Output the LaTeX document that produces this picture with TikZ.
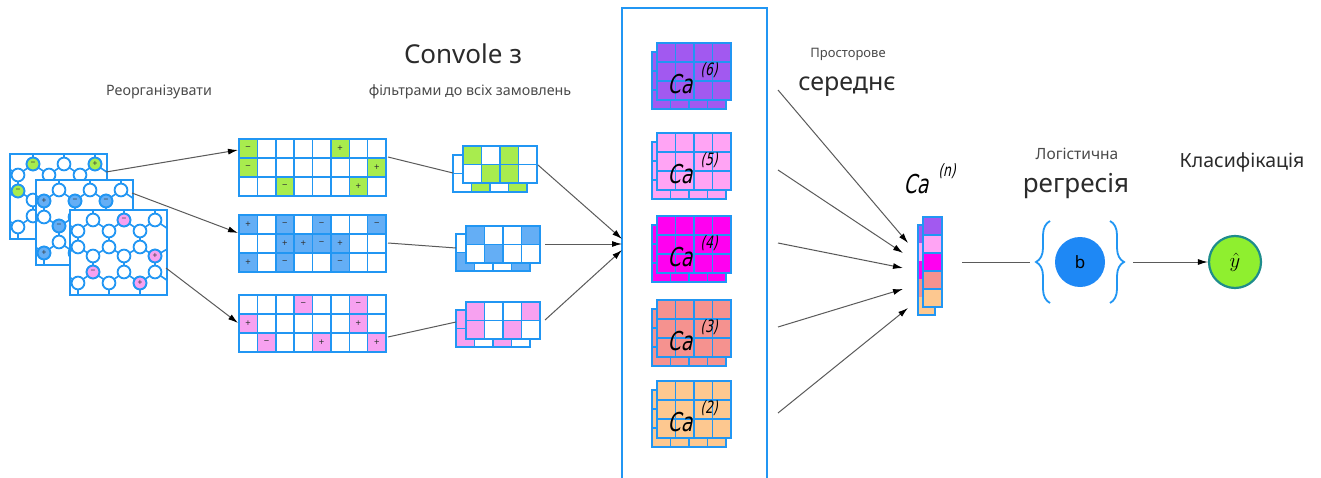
\documentclass[tikz,border=0pt]{standalone}
\usepackage{fontspec}
\setmainfont{Noto Sans}
\newfontfamily\gost{DejaVu Sans}[FakeSlant=0.22,FakeStretch=0.72]
\usetikzlibrary{arrows.meta,decorations.pathreplacing,calc}
\definecolor{bord}{HTML}{2196F3}
\definecolor{lgray}{HTML}{5A5A5A}
\definecolor{tgray}{HTML}{4A4A4A}
\definecolor{tdark}{HTML}{2B2B2B}
\definecolor{cg}{HTML}{A8EC4E}
\definecolor{cb}{HTML}{64AEF5}
\definecolor{cp}{HTML}{F7A1F0}
\definecolor{caA}{HTML}{A259F0}
\definecolor{caB}{HTML}{FFA4F4}
\definecolor{caC}{HTML}{FF00F0}
\definecolor{caD}{HTML}{F5928F}
\definecolor{caE}{HTML}{FDC890}
\definecolor{bblue}{HTML}{1E88F5}
\definecolor{ygreen}{HTML}{8FEF2F}
\definecolor{yteal}{HTML}{1E8C8C}
\tikzset{
 gline/.style={draw=bord, line width=1.5pt},
 bond/.style={draw=bord, line width=1.6pt},
 circ/.style={draw=bord, line width=1.8pt, fill=white},
 sgn/.style={font=\fontsize{9.5}{9.5}\selectfont, text=black!80, inner sep=0pt},
 csgn/.style={font=\fontsize{8.5}{8.5}\selectfont, text=black!80, inner sep=0pt},
 conn/.style={draw=lgray, line width=1pt},
 arr/.style={-{Latex[length=10pt,width=6pt,color=black]}},
 calab/.style={font=\gost\fontsize{26}{26}\selectfont, text=black, inner sep=0pt},
 casup/.style={font=\gost\fontsize{17}{17}\selectfont, text=black, inner sep=0pt},
 lbl/.style={text=tgray, inner sep=0pt, anchor=base},
 brc/.style={draw=bord, line width=1.8pt, decorate, decoration={brace, amplitude=14pt}},
}
% rectangular cell grid: x0 y0 ncols nrows cw ch
\newcommand\cellrects[6]{%
  \foreach \ii in {1,...,#3}{\foreach \jj in {1,...,#4}{%
    \draw[gline] ({#1+(\ii-1)*#5},{#2+(\jj-1)*#6}) rectangle ++(#5,#6);}}%
  \draw[gline,line width=2pt] ({#1},{#2}) rectangle ++({#3*#5},{#4*#6});}
% filled cells without sign: x0 y0 cw ch colour list c/r
\newcommand\plaincells[6]{%
  \foreach \c/\r in {#6}{\fill[#5] ({#1+\c*#3},{#2+\r*#4}) rectangle ++(#3,#4);}}
% filled cells with sign: x0 y0 cw ch colour list c/r/s prefix
\newcommand\signcells[7]{%
  \foreach \c/\r/\s in {#6}{\fill[#5] ({#1+\c*#3},{#2+\r*#4}) rectangle ++(#3,#4);
    \node[sgn] (#7-\c-\r) at ({#1+(\c+0.5)*#3},{#2+(\r+0.5)*#4}) {\s};}}
% honeycomb of circles: x0 y0 colour list px/py/s prefix
\newcommand\molgrid[5]{%
\begin{scope}[shift={(#1,#2)}]
  \fill[white] (0,0) rectangle (97,85);
  \begin{scope}
   \clip (0,0) rectangle (97,85);
   \foreach \k in {-1,0,1,2,3}{
     \draw[bond] ({23+31*\k},0) -- ({23+31*\k},10) -- ({8+31*\k},21) -- ({8+31*\k},37) -- ({23+31*\k},46) -- ({23+31*\k},62) -- ({8+31*\k},73) -- ({8+31*\k},85);
     \draw[bond] ({23+31*\k},10) -- ({39+31*\k},21);
     \draw[bond] ({39+31*\k},37) -- ({23+31*\k},46);
     \draw[bond] ({23+31*\k},62) -- ({39+31*\k},73);
   }
  \end{scope}
  \foreach \k in {0,1,2}{
   \foreach \yy in {10,46,62}{\draw[circ] ({23+31*\k},\yy) circle (6.4);}
   \foreach \yy in {21,37,73}{\draw[circ] ({8+31*\k},\yy) circle (6.4);}
  }
  \foreach \px/\py/\s in {#4}{\draw[circ, fill=#3] (\px,\py) circle (6.4);
    \node[csgn] (#5-\px-\py) at (\px,\py) {\s};}
  \draw[bord, line width=2pt] (0,0) rectangle (97,85);
\end{scope}}
% stacked 4x3 map with label: x0 y0 colour sup name
\newcommand\castack[5]{%
  \fill[#3] ({#1-5},{#2+9}) rectangle ++(74,57);
  \cellrects{#1-5}{#2+9}{4}{3}{18.5}{19}
  \fill[#3] ({#1},{#2}) rectangle ++(74,57);
  \cellrects{#1}{#2}{4}{3}{18.5}{19}
  \node[calab] (#5c) at ({#1+23},{#2+41}) {Ca};
  \node[casup] (#5s) at ({#1+52},{#2+27}) {(#4)};
}
\begin{document}
\begin{tikzpicture}[x=1pt,y=-1pt]
\useasboundingbox (0,0) rectangle (1321,478);
\fill[white] (0,0) rectangle (1321,478);

% ---- titles
\node[lbl, font=\fontsize{14.3}{14.3}\selectfont] (reorg) at (159,96) {Реорганізувати};
\node[lbl, font=\fontsize{26}{26}\selectfont, text=tdark] (conv) at (463,64) {Convole з};
\node[lbl, font=\fontsize{14.3}{14.3}\selectfont] (filt) at (470,96) {фільтрами до всіх замовлень};
\node[lbl, font=\fontsize{13}{13}\selectfont] (prost) at (848,58) {Просторове};
\node[lbl, font=\fontsize{25}{25}\selectfont, text=tdark] (sered) at (847,91) {середнє};
\node[lbl, font=\fontsize{15.5}{15.5}\selectfont] (logi) at (1077,160) {Логістична};
\node[lbl, font=\fontsize{26}{26}\selectfont, text=tdark] (regr) at (1076,193) {регресія};
\node[lbl, font=\fontsize{19.5}{19.5}\selectfont, text=tdark] (klas) at (1242,168) {Класифікація};

% ---- honeycomb inputs
\molgrid{10}{154}{cg}{23/10/−,85/10/+,8/37/−}{h1}
\molgrid{36}{180}{cb}{8/21/+,39/21/−,70/21/−,23/46/−,8/73/+}{h2}
\molgrid{70}{210}{cp}{54/10/−,85/46/+,23/62/−,70/73/+}{h3}

% ---- 8x3 grids
\fill[white] (239,139) rectangle ++(147,57);
\signcells{239}{139}{18.375}{19}{cg}{0/0/−,5/0/+,0/1/−,7/1/+,2/2/−,6/2/+}{ga}
\cellrects{239}{139}{8}{3}{18.375}{19}
\signcells{239}{215}{18.375}{19}{cb}{0/0/+,2/0/−,4/0/−,7/0/−,2/1/+,3/1/+,4/1/−,5/1/+,0/2/+,2/2/−,5/2/−}{gb}
\cellrects{239}{215}{8}{3}{18.375}{19}
\signcells{239}{295}{18.375}{19}{cp}{3/0/−,6/0/−,0/1/+,6/1/+,1/2/−,4/2/+,7/2/+}{gc}
\cellrects{239}{295}{8}{3}{18.375}{19}

% ---- small stacked 4x2 grids
\plaincells{453}{155}{18.5}{18.5}{cg}{1/1,3/1}
\cellrects{453}{155}{4}{2}{18.5}{18.5}
\fill[white] (463,146) rectangle ++(74,37);
\plaincells{463}{146}{18.5}{18.5}{cg}{0/0,2/0,1/1,2/1}
\cellrects{463}{146}{4}{2}{18.5}{18.5}

\plaincells{456}{234}{18.5}{18.5}{cb}{0/1,3/1}
\cellrects{456}{234}{4}{2}{18.5}{18.5}
\fill[white] (466,226) rectangle ++(74,37);
\plaincells{466}{226}{18.5}{18.5}{cb}{0/0,3/0,1/1}
\cellrects{466}{226}{4}{2}{18.5}{18.5}

\plaincells{456}{310}{18.5}{18.5}{cp}{0/0,0/1,2/1}
\cellrects{456}{310}{4}{2}{18.5}{18.5}
\fill[white] (466,302) rectangle ++(74,37);
\plaincells{466}{302}{18.5}{18.5}{cp}{0/0,3/0,0/1,2/1}
\cellrects{466}{302}{4}{2}{18.5}{18.5}

% ---- middle column
\draw[bord, line width=2pt] (622,8) rectangle (767,490);
\castack{657}{43}{caA}{6}{k6}
\castack{657}{133}{caB}{5}{k5}
\castack{657}{216}{caC}{4}{k4}
\castack{657}{300}{caD}{3}{k3}
\castack{657}{381}{caE}{2}{k2}

% ---- pooled vector
\foreach \k/\col in {0/caA,1/caB,2/caC,3/caD,4/caE}{
  \fill[\col] (918,{225+18*\k}) rectangle ++(17,18);}
\draw[gline] (918,225) rectangle ++(17,90);
\foreach \k/\col in {0/caA,1/caB,2/caC,3/caD,4/caE}{
  \fill[\col] (923,{217+18*\k}) rectangle ++(19,18);
  \draw[gline] (923,{217+18*\k}) rectangle ++(19,18);}
\node[calab] (cnc) at (916,184) {Ca};
\node[casup] (cns) at (947,171) {(n)};

% ---- regression and output
\node[circle, fill=bblue, minimum size=50pt, inner sep=0pt, font=\fontsize{17}{17}\selectfont] (b) at (1080,262) {b};
\draw[brc] (1050,303) -- (1050,221);
\draw[brc] (1110,221) -- (1110,303);
\node[circle, fill=ygreen, draw=yteal, line width=2.2pt, minimum size=52pt, inner sep=0pt, font=\fontsize{21}{21}\selectfont] (yhat) at (1235,262) {$\hat{y}$};

% ---- connector end points
\coordinate (h1o) at (106,172);  \coordinate (ga-in) at (238,150);
\coordinate (h2o) at (132,193);  \coordinate (gb-in) at (238,233);
\coordinate (h3o) at (166,268);  \coordinate (gc-in) at (238,323);
\coordinate (ga-out) at (388,157); \coordinate (sa-in) at (453,173);
\coordinate (gb-out) at (388,243); \coordinate (sb-in) at (456,248);
\coordinate (gc-out) at (388,337); \coordinate (sc-in) at (456,322);
\coordinate (sa-out) at (538,165); \coordinate (sb-out) at (545,244); \coordinate (sc-out) at (545,320);
\coordinate (colA) at (622,239); \coordinate (colB) at (622,244); \coordinate (colC) at (622,250);
\coordinate (p6) at (778,90);  \coordinate (v6) at (908,243);
\coordinate (p5) at (778,170); \coordinate (v5) at (903,253);
\coordinate (p4) at (778,243); \coordinate (v4) at (903,268);
\coordinate (p3) at (778,327); \coordinate (v3) at (903,289);
\coordinate (p2) at (778,413); \coordinate (v2) at (908,308);
\coordinate (vout) at (962,262); \coordinate (brl) at (1030,262);
\coordinate (brr) at (1133,262);

\draw[conn, arr] (h1o) -- (ga-in);
\draw[conn, arr] (h2o) -- (gb-in);
\draw[conn, arr] (h3o) -- (gc-in);
\draw[conn] (ga-out) -- (sa-in);
\draw[conn] (gb-out) -- (sb-in);
\draw[conn] (gc-out) -- (sc-in);
\draw[conn, arr] (sa-out) -- (colA);
\draw[conn, arr] (sb-out) -- (colB);
\draw[conn, arr] (sc-out) -- (colC);
\draw[conn, arr] (p6) -- (v6);
\draw[conn, arr] (p5) -- (v5);
\draw[conn, arr] (p4) -- (v4);
\draw[conn, arr] (p3) -- (v3);
\draw[conn, arr] (p2) -- (v2);
\draw[conn] (vout) -- (brl);
\draw[conn, arr] (brr) -- (yhat.west);
\end{tikzpicture}
\end{document}
